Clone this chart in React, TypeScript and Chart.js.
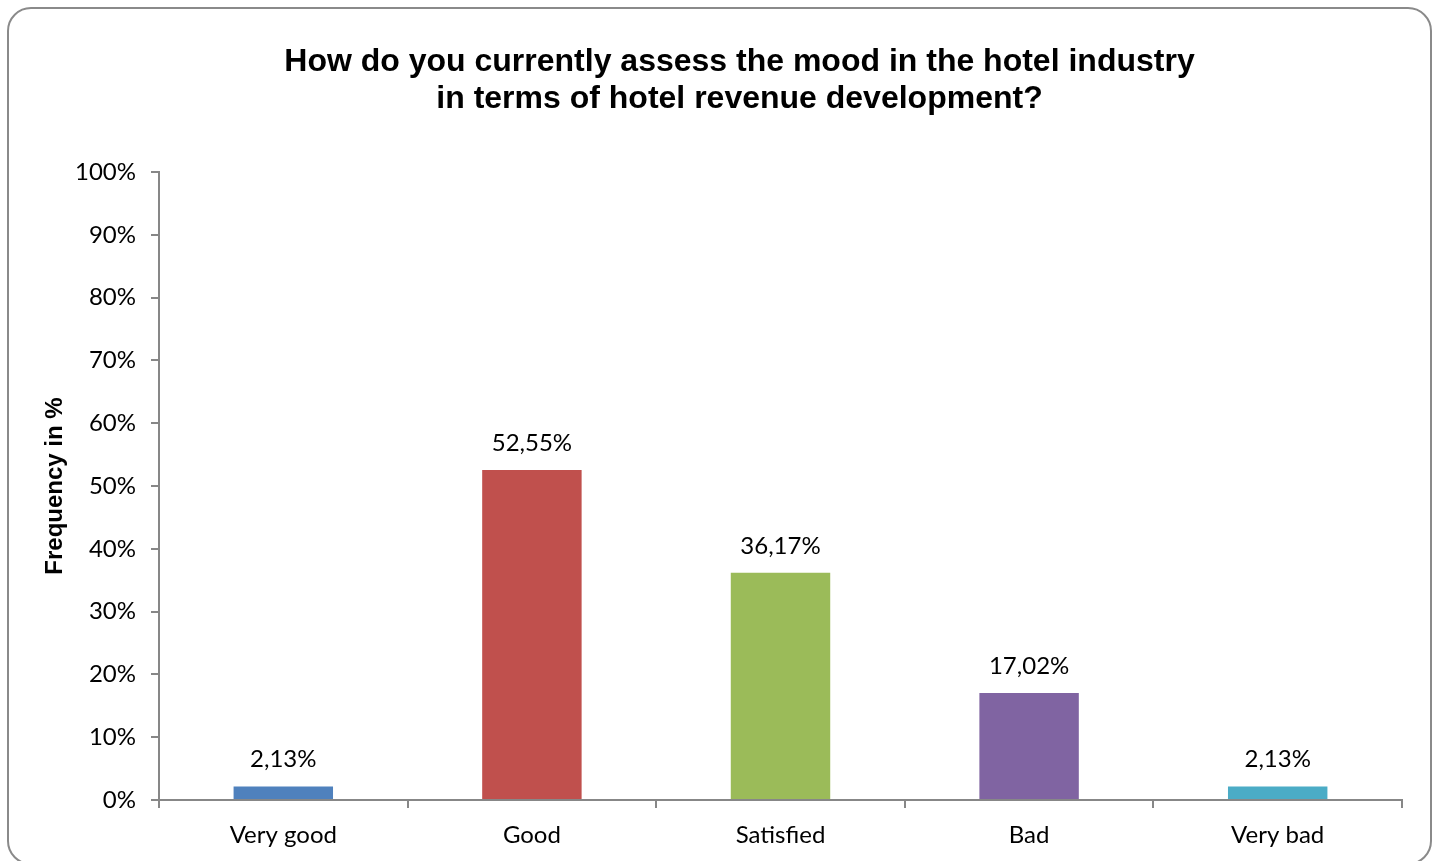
import React, { useEffect, useRef } from "react";
import { Chart, registerables } from "chart.js";

Chart.register(...registerables);

const categories = ["Very good", "Good", "Satisfied", "Bad", "Very bad"];
const values = [2.13, 52.55, 36.17, 17.02, 2.13];
const barColors = ["#4F81BD", "#C0504D", "#9BBB59", "#8064A2", "#4BACC6"];
const titleLines = [
  "How do you currently assess the mood in the hotel industry",
  "in terms of hotel revenue development?",
];
const yAxisTitle = "Frequency in %";

const AXIS_COLOR = "#878787";
const LABEL_FONT = "Lato, 'Open Sans', sans-serif";
const BOLD_FONT = "'Liberation Sans', Arial, sans-serif";

const fmt = (v: number) => v.toFixed(2).replace(".", ",") + "%";

const valueLabels = {
  id: "valueLabels",
  afterDatasetsDraw(chart: any) {
    const ctx = chart.ctx;
    const meta = chart.getDatasetMeta(0);
    ctx.save();
    ctx.font = `24px ${LABEL_FONT}`;
    ctx.fillStyle = "#000";
    ctx.textAlign = "center";
    ctx.textBaseline = "middle";
    meta.data.forEach((el: any, i: number) => {
      ctx.fillText(fmt(values[i]), el.x, el.y - 27);
    });
    ctx.restore();
  },
};

export default function App() {
  const ref = useRef<HTMLCanvasElement>(null);
  useEffect(() => {
    if (!ref.current) return;
    const chart = new Chart(ref.current, {
      type: "bar",
      data: {
        labels: categories,
        datasets: [
          {
            data: values,
            backgroundColor: barColors,
            borderWidth: 0,
            barPercentage: 0.4,
            categoryPercentage: 1,
          },
        ],
      },
      options: {
        responsive: false,
        animation: false,
        devicePixelRatio: 1,
        layout: { padding: { left: 77, right: 37, top: 0, bottom: 0 } },
        plugins: {
          legend: { display: false },
          tooltip: { enabled: false },
          title: {
            display: true,
            text: titleLines,
            color: "#000",
            font: { family: BOLD_FONT, size: 32, weight: "bold", lineHeight: 1.15625 },
            padding: { top: 43.5, bottom: 54.5 },
          },
        },
        scales: {
          x: {
            afterFit: (s: any) => {
              s.height = 61;
            },
            grid: {
              display: true,
              offset: true,
              drawOnChartArea: false,
              drawTicks: true,
              tickLength: 8,
              color: AXIS_COLOR,
              lineWidth: 2,
            },
            border: { display: true, color: AXIS_COLOR, width: 2 },
            ticks: {
              color: "#000",
              padding: 13,
              font: { family: LABEL_FONT, size: 24 },
              maxRotation: 0,
            },
          },
          y: {
            min: 0,
            max: 100,
            afterFit: (s: any) => {
              s.width = 82;
            },
            grid: {
              display: true,
              drawOnChartArea: false,
              drawTicks: true,
              tickLength: 8,
              color: AXIS_COLOR,
              lineWidth: 2,
            },
            border: { display: true, color: AXIS_COLOR, width: 2 },
            ticks: {
              stepSize: 10,
              color: "#000",
              padding: 15,
              font: { family: LABEL_FONT, size: 24 },
              callback: (v: any) => `${v}%`,
            },
            title: {
              display: true,
              text: yAxisTitle,
              color: "#000",
              font: { family: BOLD_FONT, size: 24, weight: "bold", lineHeight: 1.2 },
              padding: { top: -36.4, bottom: 0 },
            },
          },
        },
      },
      plugins: [valueLabels],
    });
    return () => chart.destroy();
  }, []);

  return (
    <div style={{ position: "fixed", left: 0, top: 0, width: 1439, height: 861, background: "#fff", overflow: "hidden" }}>
      <div
        style={{
          position: "absolute",
          left: 7,
          top: 7,
          width: 1425,
          height: 858,
          border: "2px solid #8a8a8a",
          borderRadius: 24,
          boxSizing: "border-box",
        }}
      />
      <canvas ref={ref} width={1439} height={861} style={{ position: "absolute", left: 0, top: 0 }} />
    </div>
  );
}
